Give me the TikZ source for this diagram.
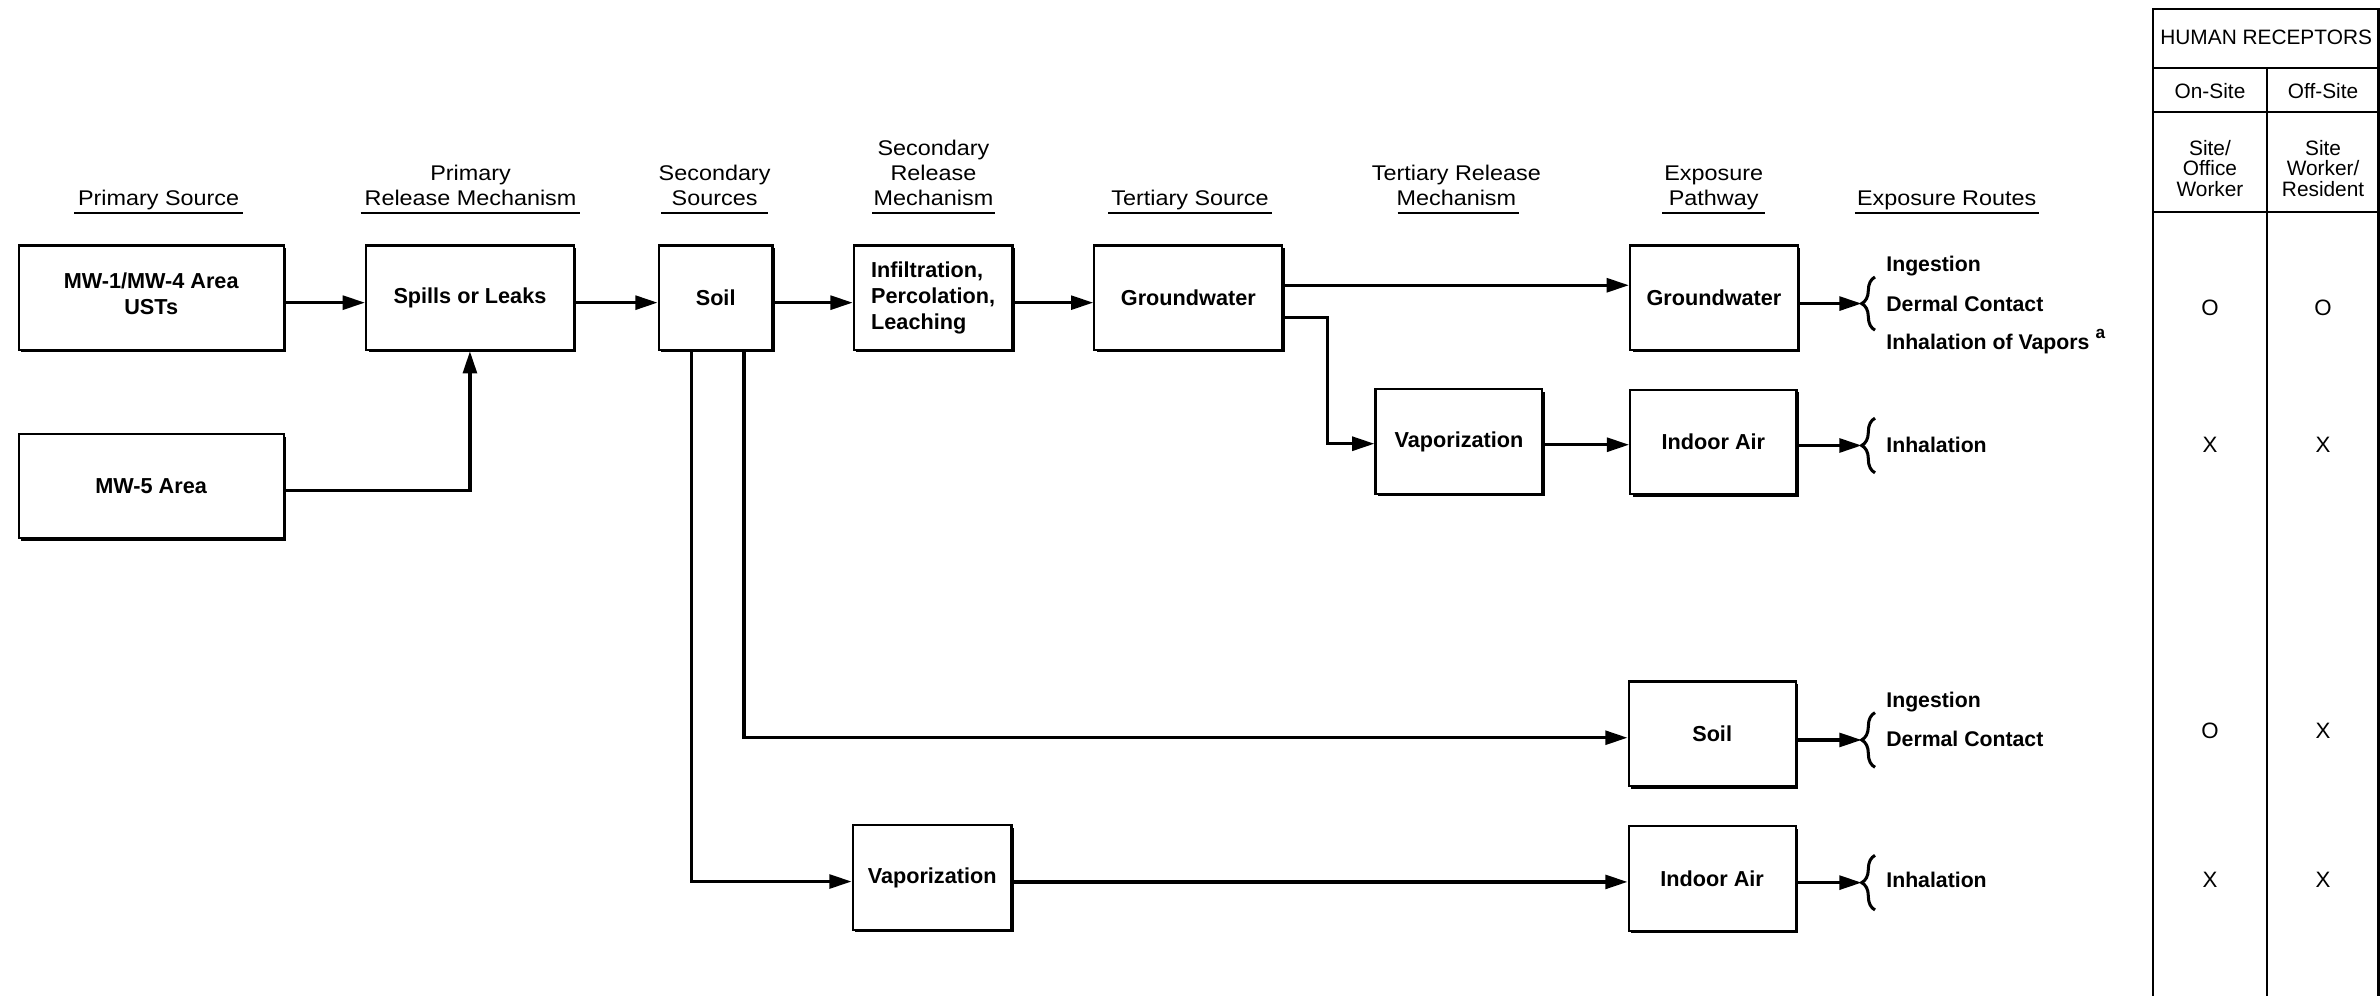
\documentclass[tikz,border=0pt]{standalone}
\usepackage{fontspec}
\setmainfont{Liberation Sans}
\newfontfamily\hdrfont[FakeStretch=1.1]{Liberation Sans}
\usetikzlibrary{arrows.meta,shadows,calc,decorations.pathreplacing}
\begin{document}
\begin{tikzpicture}[x=0.75pt,y=-0.75pt,
 box/.style={draw, line width=1.1pt, fill=white, inner sep=0pt, align=center,
   font=\fontsize{10.7}{13}\selectfont\bfseries,
   general shadow={fill=black, shadow xshift=1.2pt, shadow yshift=-1.2pt}},
 conn/.style={line width=1.7pt, -{Triangle[length=11pt,width=6.8pt]}},
 hdr/.style={inner sep=0pt, anchor=south, align=center, font=\hdrfont\fontsize{10.5}{12.4}\selectfont},
 uline/.style={line width=1.2pt},
 rte/.style={inner sep=0pt, anchor=base west, font=\fontsize{10.5}{13}\selectfont\bfseries},
 brc/.style={line width=1.5pt, decorate, decoration={brace, amplitude=6.6pt}},
 tbl/.style={line width=1pt},
 ttxt/.style={inner sep=0pt, align=center, font=\fontsize{10.3}{10}\selectfont},
 mk/.style={inner sep=0pt, font=\fontsize{11}{12}\selectfont}]
\useasboundingbox (0,0) rectangle (1568,656);

% headers
\node[hdr] (h1) at (104.5,138.7) {Primary Source\vphantom{y}};
\node[hdr] (h2) at (310,138.7) {Primary\\Release Mechanism\vphantom{y}};
\node[hdr] (h3) at (470.8,138.7) {Secondary\\Sources\vphantom{y}};
\node[hdr] (h4) at (615,138.7) {Secondary\\Release\\Mechanism\vphantom{y}};
\node[hdr] (h5) at (784,138.7) {Tertiary Source\vphantom{y}};
\node[hdr] (h6) at (959.5,138.7) {Tertiary Release\\Mechanism\vphantom{y}};
\node[hdr] (h7) at (1129,138.7) {Exposure\\Pathway\vphantom{y}};
\node[hdr] (h8) at (1282.5,138.7) {Exposure Routes\vphantom{y}};
\draw[uline] ($(h1.south)+(-55.5,1.8)$) -- ($(h1.south)+(55.5,1.8)$);
\draw[uline] ($(h2.south)+(-72.4,1.8)$) -- ($(h2.south)+(72.4,1.8)$);
\draw[uline] ($(h3.south)+(-35.2,1.8)$) -- ($(h3.south)+(35.2,1.8)$);
\draw[uline] ($(h4.south)+(-40.3,1.8)$) -- ($(h4.south)+(40.3,1.8)$);
\draw[uline] ($(h5.south)+(-54,1.8)$) -- ($(h5.south)+(54,1.8)$);
\draw[uline] ($(h6.south)+(-38.7,1.8)$) -- ($(h6.south)+(41.5,1.8)$);
\draw[uline] ($(h7.south)+(-34,1.8)$) -- ($(h7.south)+(34,1.8)$);
\draw[uline] ($(h8.south)+(-60.5,1.8)$) -- ($(h8.south)+(60.5,1.8)$);

% boxes
\node[box, minimum width=130.95pt, minimum height=51.6pt] (mw1) at (99.6,196.2) {MW-1/MW-4 Area\\USTs\vspace{4pt}};
\node[box, minimum width=102.6pt, minimum height=51.6pt] (spills) at (309.6,196.2) {Spills or Leaks};
\node[box, minimum width=56.25pt, minimum height=51.6pt] (soil) at (471.5,196.2) {Soil};
\node[box, minimum width=78.4pt, minimum height=51.6pt, align=left] (infil) at (614.8,196.2) {Infiltration,\\Percolation,\\Leaching};
\node[box, minimum width=92.85pt, minimum height=51.6pt] (gw) at (782.9,196.2) {Groundwater};
\node[box, minimum width=82.9pt, minimum height=51.6pt] (gwexp) at (1129.2,196.2) {Groundwater};
\node[box, minimum width=130.95pt, minimum height=51.45pt] (mw5) at (99.6,320.3) {MW-5 Area};
\node[box, minimum width=82.4pt, minimum height=51.75pt] (vap1) at (961.2,291) {Vaporization};
\node[box, minimum width=82.1pt, minimum height=51.75pt] (air1) at (1128.8,291.2) {Indoor Air};
\node[box, minimum width=82.5pt, minimum height=51.75pt] (soilexp) at (1128,483.5) {Soil};
\node[box, minimum width=78.45pt, minimum height=51.75pt] (vap2) at (614.1,578.1) {Vaporization};
\node[box, minimum width=82.5pt, minimum height=51.75pt] (air2) at (1128,578.8) {Indoor Air};

% connectors
\draw[conn] ([yshift=-2.4pt]mw1.east) -- ([yshift=-2.4pt]spills.west);
\draw[conn] ([yshift=-2.4pt]spills.east) -- ([yshift=-2.4pt]soil.west);
\draw[conn] ([yshift=-2.4pt]soil.east) -- ([yshift=-2.4pt]infil.west);
\draw[conn] ([yshift=-2.4pt]infil.east) -- ([yshift=-2.4pt]gw.west);
\draw[conn] ([yshift=-2.25pt]mw5.east) -| (spills.south);
\draw[conn] ([yshift=6.2pt]gw.east) -- ([yshift=6.2pt]gw.east -| gwexp.west);
\draw[conn] ([yshift=-9.6pt]gw.east) -- ++(29,0) |- ([yshift=-1pt]vap1.west);
\draw[conn] ([yshift=-1.5pt]vap1.east) -- ([yshift=-1.5pt]vap1.east -| air1.west);
\draw[conn] ([xshift=-12pt]soil.south) |- ([yshift=-2pt]vap2.west);
\draw[conn] ([xshift=14.1pt]soil.south) |- ([yshift=-1.9pt]soilexp.west);
\draw[conn] ([yshift=-2.2pt]vap2.east) -- ([yshift=-2.2pt]vap2.east -| air2.west);

% braces
\coordinate (b1) at (1226.5,200);
\coordinate (b2) at (1226.5,293.5);
\coordinate (b3) at (1226.5,487.5);
\coordinate (b4) at (1226.5,581.5);
\draw[conn] (gwexp.east |- b1) -- (b1);
\draw[conn] (air1.east |- b2) -- (b2);
\draw[conn] (soilexp.east |- b3) -- (b3);
\draw[conn] (air2.east |- b4) -- (b4);
\draw[brc] ($(b1)+(8.8,17.5)$) -- ($(b1)+(8.8,-17.5)$);
\draw[brc] ($(b2)+(8.8,18)$) -- ($(b2)+(8.8,-18)$);
\draw[brc] ($(b3)+(8.8,18)$) -- ($(b3)+(8.8,-18)$);
\draw[brc] ($(b4)+(8.8,18)$) -- ($(b4)+(8.8,-18)$);

% exposure routes
\node[rte] (r1a) at (1242.5,179) {Ingestion};
\node[rte] (r1b) at (1242.5,205.3) {Dermal Contact};
\node[rte] (r1c) at (1242.5,230) {Inhalation of Vapors\hspace{3pt}\raisebox{5pt}{\fontsize{8.5}{8.5}\selectfont a}};
\node[rte] (r2) at (1242.5,298.2) {Inhalation};
\node[rte] (r3a) at (1242.5,466) {Ingestion};
\node[rte] (r3b) at (1242.5,492) {Dermal Contact};
\node[rte] (r4) at (1242.5,585) {Inhalation};

% receptors table
\draw[tbl] (1418.6,656) -- (1418.6,6.2) -- (1567,6.2) -- (1567,656);
\draw[tbl] (1418.6,44.6) -- (1567,44.6);
\draw[tbl] (1418.6,73.6) -- (1567,73.6);
\draw[tbl] (1418.6,139.5) -- (1567,139.5);
\draw[tbl] (1493.7,44.6) -- (1493.7,656);
\node[ttxt, anchor=base] (thr) at (1493,29.6) {HUMAN RECEPTORS};
\node[ttxt, anchor=base] (ton) at (1456,65) {On-Site};
\node[ttxt, anchor=base] (toff) at (1530.5,65) {Off-Site};
\node[ttxt] (tw1) at (1456,111) {Site/\\Office\\Worker};
\node[ttxt] (tw2) at (1530.5,111) {Site\\Worker/\\Resident};
\node[mk] (m11) at (1456,203) {O};
\node[mk] (m12) at (1530.5,203) {O};
\node[mk] (m21) at (1456,293) {X};
\node[mk] (m22) at (1530.5,293) {X};
\node[mk] (m31) at (1456,481.3) {O};
\node[mk] (m32) at (1530.5,481.3) {X};
\node[mk] (m41) at (1456,579.7) {X};
\node[mk] (m42) at (1530.5,579.7) {X};
\end{tikzpicture}
\end{document}
